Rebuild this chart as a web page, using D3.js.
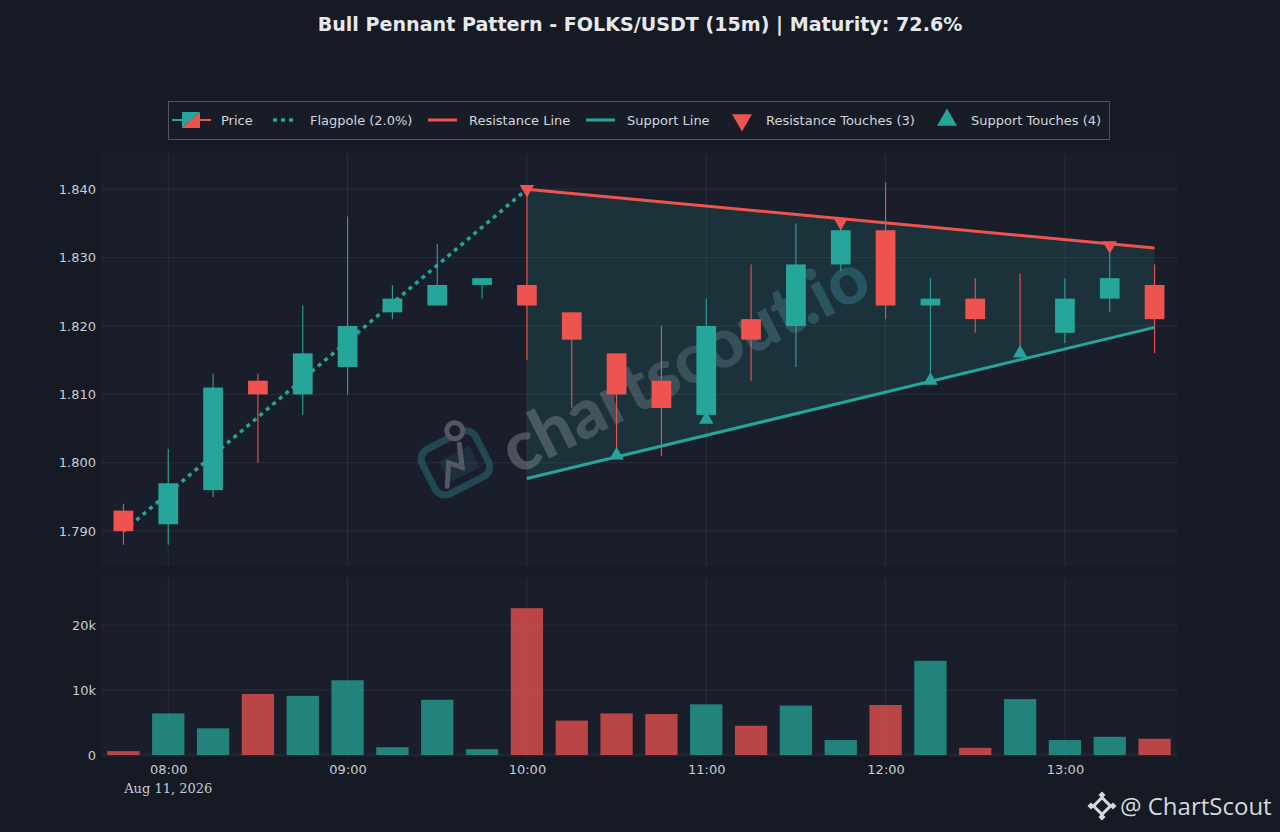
<!DOCTYPE html>
<html><head><meta charset="utf-8">
<script src="https://cdn.jsdelivr.net/npm/d3@7"></script>
<style>body{margin:0;background:#151a24;overflow:hidden} svg{display:block}</style>
</head><body><svg id="c" width="1280" height="832"></svg>
<script>
// ---------- data ----------
const times = ["07:45","08:00","08:15","08:30","08:45","09:00","09:15","09:30","09:45","10:00","10:15","10:30",
               "10:45","11:00","11:15","11:30","11:45","12:00","12:15","12:30","12:45","13:00","13:15","13:30"];
const opens  = [1.793,1.791,1.796,1.812,1.810,1.814,1.822,1.823,1.826,1.826,1.822,1.816,
                1.812,1.807,1.821,1.820,1.829,1.834,1.823,1.824,1.8163,1.819,1.824,1.826];
const highs  = [1.794,1.802,1.813,1.813,1.823,1.836,1.826,1.832,1.827,1.840,1.822,1.816,
                1.820,1.824,1.829,1.835,1.8352,1.841,1.827,1.827,1.8277,1.827,1.8318,1.829];
const lows   = [1.788,1.788,1.795,1.800,1.807,1.810,1.821,1.823,1.824,1.815,1.808,1.801,
                1.801,1.8063,1.812,1.814,1.828,1.821,1.812,1.819,1.8160,1.8175,1.822,1.816];
const closes = [1.790,1.797,1.811,1.810,1.816,1.820,1.824,1.826,1.827,1.823,1.818,1.810,
                1.808,1.820,1.818,1.829,1.834,1.823,1.824,1.821,1.8163,1.824,1.827,1.821];
const volumes = [600,6400,4100,9400,9100,11500,1200,8500,900,22600,5300,6400,
                 6300,7800,4500,7600,2300,7700,14500,1100,8600,2300,2800,2500];

const flagpoleTimes = ["07:45","10:00"];
const flagpoleValues = [1.790, 1.840];
const resistanceTimes = ["10:00","13:30"];
const resistanceValues = [1.840, 1.8314];
const supportTimes = ["10:00","13:30"];
const supportValues = [1.7977, 1.8198];
const resTouchTimes = ["10:00","11:45","13:15"];
const resTouchValues = [1.840, 1.8352, 1.8318];
const supTouchTimes = ["10:30","11:00","12:15","12:45"];
const supTouchValues = [1.8011, 1.8063, 1.8120, 1.8160];

const priceTicks = [1.79,1.80,1.81,1.82,1.83,1.84];
const volumeTicks = [0,10000,20000];
const legendLabels = ["Price","Flagpole (2.0%)","Resistance Line","Support Line","Resistance Touches (3)","Support Touches (4)"];
const titleText = "Bull Pennant Pattern - FOLKS/USDT (15m) | Maturity: 72.6%";
const dateLabel = "Aug 11, 2026";

// ---------- setup ----------
const UP = "#26a69a", DOWN = "#ef5350";
const svg = d3.select("#c");
const T = s => new Date(`2026-08-11T${s}:00`);
const M = {left:101, right:1177, top:153, bottom:566};
const V = {top:577, bottom:757, zero:755};

const x = d3.scaleTime()
  .domain([new Date(T("07:37").getTime()+30000), new Date(T("13:37").getTime()+30000)])
  .range([M.left, M.right]);
const y = d3.scaleLinear().domain([1.7849, 1.8453]).range([M.bottom, M.top]);
const yv = d3.scaleLinear().domain([0, 27400]).range([V.zero, V.top]);
const step = x(T("08:00")) - x(T("07:45"));

svg.append("rect").attr("width",1280).attr("height",832).attr("fill","#151a24");

// title
svg.append("text").attr("x",640).attr("y",31).attr("text-anchor","middle")
  .attr("font-family","DejaVu Sans").attr("font-weight","bold").attr("font-size",19.1).attr("fill","#e6e8ec")
  .text(titleText);

// panels
svg.append("rect").attr("x",M.left).attr("y",M.top).attr("width",M.right-M.left).attr("height",M.bottom-M.top).attr("fill","#1a1e2b");
svg.append("rect").attr("x",M.left).attr("y",V.top).attr("width",M.right-M.left).attr("height",V.bottom-V.top).attr("fill","#1a1e2b");

const hourTicks = x.ticks(d3.timeHour.every(1));
const gridC = "rgba(255,255,255,0.075)";
svg.append("g").selectAll("line").data(priceTicks).join("line")
  .attr("x1",M.left).attr("x2",M.right).attr("y1",d=>y(d)).attr("y2",d=>y(d)).attr("stroke",gridC);
svg.append("g").selectAll("line").data(hourTicks).join("line")
  .attr("x1",d=>x(d)).attr("x2",d=>x(d)).attr("y1",M.top).attr("y2",M.bottom).attr("stroke",gridC);
svg.append("g").selectAll("line").data(volumeTicks).join("line")
  .attr("x1",M.left).attr("x2",M.right).attr("y1",d=>yv(d)).attr("y2",d=>yv(d)).attr("stroke",gridC);
svg.append("g").selectAll("line").data(hourTicks).join("line")
  .attr("x1",d=>x(d)).attr("x2",d=>x(d)).attr("y1",V.top).attr("y2",V.bottom).attr("stroke",gridC);

// axes
const tickFont = {family:"DejaVu Sans", size:13, fill:"#c9ccd3"};
const gy = svg.append("g").attr("transform",`translate(${M.left},0)`)
  .call(d3.axisLeft(y).tickValues(priceTicks).tickFormat(d3.format(".3f")).tickSize(0).tickPadding(5));
const gyv = svg.append("g").attr("transform",`translate(${M.left},0)`)
  .call(d3.axisLeft(yv).tickValues(volumeTicks).tickFormat(d=>d===0?"0":(d/1000)+"k").tickSize(0).tickPadding(5));
const gx = svg.append("g").attr("transform",`translate(0,${V.bottom})`)
  .call(d3.axisBottom(x).tickValues(hourTicks).tickFormat(d3.timeFormat("%H:%M")).tickSize(0).tickPadding(8));
[gy,gyv,gx].forEach(g=>{
  g.select(".domain").remove();
  g.selectAll("text").attr("font-family",tickFont.family).attr("font-size",tickFont.size).attr("fill",tickFont.fill);
});
svg.append("text").attr("x",x(hourTicks[0])).attr("y",793).attr("text-anchor","middle")
  .attr("font-family","DejaVu Serif").attr("font-size",13).attr("fill","#c9ccd3").text(dateLabel);

// pennant fill
const poly = [
  [x(T(resistanceTimes[0])), y(resistanceValues[0])],
  [x(T(resistanceTimes[1])), y(resistanceValues[1])],
  [x(T(supportTimes[1])), y(supportValues[1])],
  [x(T(supportTimes[0])), y(supportValues[0])]
];
svg.append("path").attr("d","M"+poly.join("L")+"Z").attr("fill",UP).attr("fill-opacity",0.15);

// watermark
const defs = svg.append("defs");
const grad = defs.append("linearGradient").attr("id","wmg").attr("x1","0%").attr("x2","100%");
grad.append("stop").attr("offset","0%").attr("stop-color","#9196a0").attr("stop-opacity",0.42);
grad.append("stop").attr("offset","50%").attr("stop-color","#76808c").attr("stop-opacity",0.36);
grad.append("stop").attr("offset","100%").attr("stop-color","#2f8a95").attr("stop-opacity",0.42);
const wm = svg.append("g").attr("transform","translate(662,374) rotate(-27)");
wm.append("text").attr("x",25).attr("y",24).attr("text-anchor","middle")
  .attr("font-family","Lato").attr("font-weight",900).attr("font-size",69)
  .attr("fill","url(#wmg)").text("chartscout.io");
const logo = svg.append("g").attr("transform","translate(455,462) rotate(-27)").attr("opacity",0.38);
logo.append("rect").attr("x",-30).attr("y",-24).attr("width",60).attr("height",50).attr("rx",11)
  .attr("fill","none").attr("stroke","#2f8f90").attr("stroke-width",7);
logo.append("rect").attr("x",-14).attr("y",-8).attr("width",34).attr("height",24).attr("fill","#2a7a88").attr("opacity",0.5);
logo.append("path").attr("d","M-18,18 L-6,-2 L4,8 L12,-14").attr("fill","none").attr("stroke","#b0b4bc").attr("stroke-width",5).attr("stroke-linecap","round");
logo.append("circle").attr("cx",14).attr("cy",-28).attr("r",8).attr("fill","#1a1e2b").attr("stroke","#b0b4bc").attr("stroke-width",5);

// flagpole
const line = d3.line().x(d=>x(T(d[0]))).y(d=>y(d[1]));
svg.append("path").attr("d",line(d3.zip(flagpoleTimes,flagpoleValues)))
  .attr("stroke",UP).attr("stroke-width",3.5).attr("stroke-dasharray","4,4.5").attr("fill","none");

// candles
const data = times.map((t,i)=>({t:T(t),o:opens[i],h:highs[i],l:lows[i],c:closes[i],v:volumes[i]}));
const bw = step*0.44;
const cg = svg.append("g");
cg.selectAll("line").data(data).join("line")
  .attr("x1",d=>x(d.t)).attr("x2",d=>x(d.t)).attr("y1",d=>y(d.h)).attr("y2",d=>y(d.l))
  .attr("stroke",d=>d.c>d.o?UP:DOWN).attr("stroke-width",1.1);
cg.selectAll("rect").data(data).join("rect")
  .attr("x",d=>x(d.t)-bw/2).attr("width",bw)
  .attr("y",d=>y(Math.max(d.o,d.c)))
  .attr("height",d=>Math.max(1,Math.abs(y(d.o)-y(d.c))))
  .attr("fill",d=>d.c>d.o?UP:DOWN)
  .attr("opacity",d=>d.c===d.o?0:1);

// volume bars
const vw = step*0.72;
svg.append("g").selectAll("rect").data(data).join("rect")
  .attr("x",d=>x(d.t)-vw/2).attr("width",vw)
  .attr("y",d=>yv(d.v)).attr("height",d=>yv(0)-yv(d.v))
  .attr("fill",d=>d.c>=d.o?UP:DOWN).attr("fill-opacity",0.75);

// resistance/support lines
svg.append("path").attr("d",line(d3.zip(resistanceTimes,resistanceValues)))
  .attr("stroke",DOWN).attr("stroke-width",3).attr("fill","none");
svg.append("path").attr("d",line(d3.zip(supportTimes,supportValues)))
  .attr("stroke",UP).attr("stroke-width",3).attr("fill","none");

// touches
const tri = d3.symbol().type(d3.symbolTriangle).size(90);
svg.append("g").selectAll("path").data(d3.zip(resTouchTimes,resTouchValues)).join("path")
  .attr("d",tri).attr("transform",d=>`translate(${x(T(d[0]))},${y(d[1])}) rotate(180)`).attr("fill",DOWN);
svg.append("g").selectAll("path").data(d3.zip(supTouchTimes,supTouchValues)).join("path")
  .attr("d",tri).attr("transform",d=>`translate(${x(T(d[0]))},${y(d[1])})`).attr("fill",UP);

// legend
const lg = svg.append("g");
lg.append("rect").attr("x",168.5).attr("y",101.5).attr("width",941).attr("height",38)
  .attr("fill","#171c27").attr("stroke","#50555f").attr("stroke-width",1);
const ly = 120;
const lfont = g => g.attr("font-family","DejaVu Sans").attr("font-size",13).attr("fill","#d3d6dc");
lg.append("line").attr("x1",172).attr("x2",191).attr("y1",ly).attr("y2",ly).attr("stroke",UP).attr("stroke-width",2);
lg.append("line").attr("x1",191).attr("x2",211).attr("y1",ly).attr("y2",ly).attr("stroke",DOWN).attr("stroke-width",2);
lg.append("path").attr("d",`M182,${ly-8}L200,${ly-8}L182,${ly+8}Z`).attr("fill",UP);
lg.append("path").attr("d",`M200,${ly-8}L200,${ly+8}L182,${ly+8}Z`).attr("fill",DOWN);
const labelX = [221,310,469,627,766,971];
labelX.forEach((lx,i)=>{
  lg.append("text").attr("x",lx).attr("y",ly+4.5).text(legendLabels[i]).call(lfont);
});
lg.append("line").attr("x1",273).attr("x2",295).attr("y1",ly).attr("y2",ly).attr("stroke",UP).attr("stroke-width",3.5).attr("stroke-dasharray","4,4");
lg.append("line").attr("x1",428).attr("x2",457).attr("y1",ly).attr("y2",ly).attr("stroke",DOWN).attr("stroke-width",3);
lg.append("line").attr("x1",586).attr("x2",615).attr("y1",ly).attr("y2",ly).attr("stroke",UP).attr("stroke-width",3);
lg.append("path").attr("d",d3.symbol().type(d3.symbolTriangle).size(170)).attr("transform",`translate(742,${ly}) rotate(180)`).attr("fill",DOWN);
lg.append("path").attr("d",d3.symbol().type(d3.symbolTriangle).size(170)).attr("transform",`translate(947,${ly})`).attr("fill",UP);

// footer brand
const fb = svg.append("g").attr("transform","translate(1102,806)");
fb.append("rect").attr("x",-6).attr("y",-6).attr("width",12).attr("height",12).attr("transform","rotate(45)")
  .attr("fill","none").attr("stroke","#d6d9df").attr("stroke-width",3);
[[-11,0],[11,0],[0,-11],[0,11]].forEach(p=>{
  fb.append("rect").attr("x",p[0]-2.5).attr("y",p[1]-2.5).attr("width",5).attr("height",5)
    .attr("transform",`rotate(45 ${p[0]} ${p[1]})`).attr("fill","#d6d9df");
});
svg.append("text").attr("x",1120).attr("y",815).attr("font-family","Open Sans").attr("font-size",24)
  .attr("fill","#d6d9df").text("@ ChartScout");
</script></body></html>
